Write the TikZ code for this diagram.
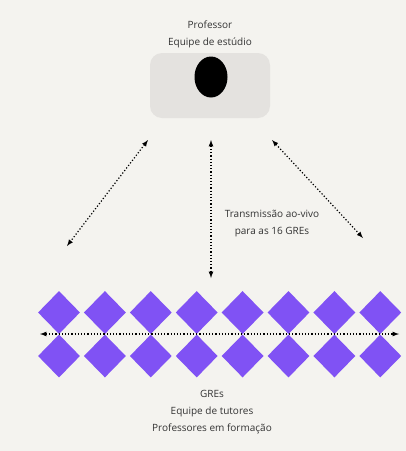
\documentclass[tikz,border=0pt]{standalone}
\usepackage{fontspec}
\setmainfont{Open Sans}
\usepackage{tikz}
\usetikzlibrary{arrows}
\usetikzlibrary{shapes.geometric}
\usetikzlibrary{positioning}
\definecolor{paper}{HTML}{F4F3EF}
\definecolor{studio}{HTML}{E4E2DF}
\definecolor{grepurple}{HTML}{8052F4}

\tikzset{
  link/.style={latex-latex, draw=black, line width=1.2pt, dotted},
  gre/.style={diamond, fill=grepurple, minimum width=42pt, minimum height=43pt, inner sep=0pt},
  caption/.style={align=center, font=\fontsize{10}{16.8}\selectfont, text=black!80}
}

\begin{document}
\begin{tikzpicture}[x=1pt, y=-1pt]
\fill [paper] (0,0) rectangle (406,451);
\node [rectangle, rounded corners=12pt, fill=studio, minimum width=120pt, minimum height=65pt] (S) at (210,85.5) {};
\node [ellipse, fill=black, minimum width=33pt, minimum height=41pt, inner sep=0pt] (cam) at (211,77) {};
\node [caption] (P) at (210,34.5) {Professor\\Equipe de estúdio};
% endpoints of the links
\coordinate (L1) at (148,140);
\coordinate (L2) at (67,246);
\coordinate (M1) at (211,140);
\coordinate (M2) at (211,278);
\coordinate (R1) at (272,140);
\coordinate (R2) at (363,238);
\draw [link] (L1) to (L2);
\draw [link] (M1) to (M2);
\draw [link] (R1) to (R2);
\node [caption] (T) at (272,223.5) {Transmissão ao-vivo\\para as 16 GREs};
% GREs
\foreach \i in {0,...,7} {
  \node [gre] (up\i) at ({59+45.9*\i},312.5) {};
  \node [gre] (dn\i) at ({59+45.9*\i},356) {};
}
\coordinate (H1) at (40,334);
\coordinate (H2) at (399,334);
\draw [link] (H1) to (H2);
\node [caption] (G) at (212,412) {GREs\\Equipe de tutores\\Professores em formação};
\end{tikzpicture}
\end{document}
